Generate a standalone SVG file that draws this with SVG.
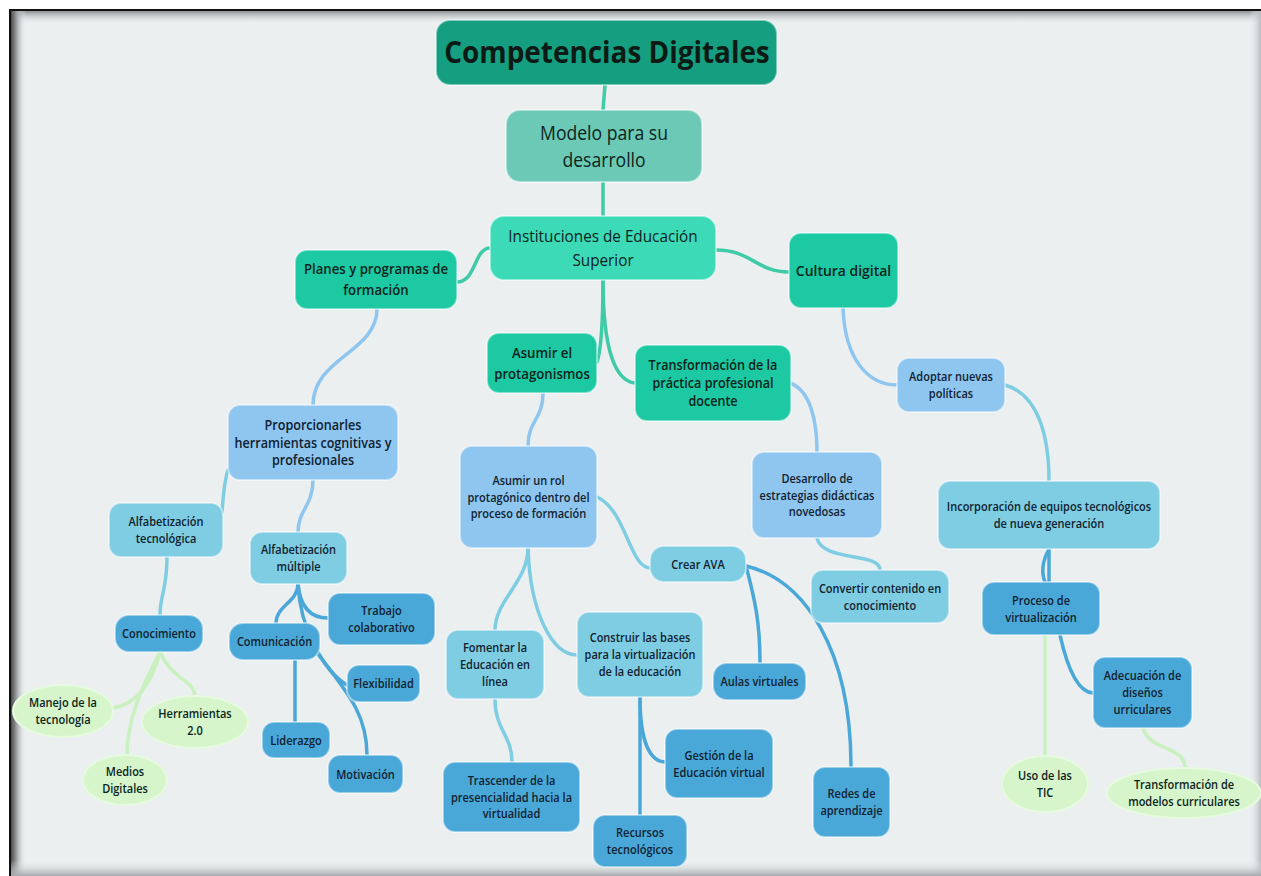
<svg xmlns="http://www.w3.org/2000/svg" width="1261" height="876" viewBox="0 0 1261 876">
<defs>
<linearGradient id="gTop" x1="0" y1="0" x2="0" y2="1"><stop offset="0" stop-color="#7d8082"/><stop offset="1" stop-color="#eceff0" stop-opacity="0"/></linearGradient>
<linearGradient id="gLeft" x1="0" y1="0" x2="1" y2="0"><stop offset="0" stop-color="#3a3c3e"/><stop offset="0.4" stop-color="#9a9d9f"/><stop offset="1" stop-color="#eceff0" stop-opacity="0"/></linearGradient>
<linearGradient id="gRight" x1="1" y1="0" x2="0" y2="0"><stop offset="0" stop-color="#b9bcbe"/><stop offset="1" stop-color="#eceff0" stop-opacity="0"/></linearGradient>
<linearGradient id="gBot" x1="0" y1="1" x2="0" y2="0"><stop offset="0" stop-color="#a7aaac"/><stop offset="1" stop-color="#eceff0" stop-opacity="0"/></linearGradient>
<style>
.t{font-family:"Open Sans","Liberation Sans",sans-serif;text-anchor:middle;fill:#10212f;font-weight:600;}
.tg{fill:#0c231c;}
.s12{font-size:12.5px;}
.s14{font-size:14px;}
.s15{font-size:15px;}
.nd{stroke:#ffffff;stroke-opacity:0.45;stroke-width:2;}
.c1{fill:#169e80;}
.c2{fill:#6cc9b6;}
.c3{fill:#3ddab8;}
.c4{fill:#1cc9a2;}
.lb{fill:#8ec6f0;}
.cy{fill:#7fcde2;}
.mb{fill:#4aa8d8;}
.gr{fill:#d6f5cb;stroke:#e6fadf;stroke-width:2;}
#connectors path{fill:none;stroke-linecap:round;}
.kt{stroke:#3fcaa8;stroke-width:3.5;}
.kl{stroke:#8ec6f0;stroke-width:3.5;}
.kc{stroke:#7fcde2;stroke-width:3.5;}
.km{stroke:#4aa8d8;stroke-width:3.5;}
.kg{stroke:#c9f0bf;stroke-width:3.5;}
</style>
</defs>
<rect x="0" y="0" width="1261" height="876" fill="#ffffff"/>
<rect x="10" y="10" width="1251" height="866" fill="#eceff0"/>
<rect x="10" y="10" width="1251" height="14" fill="url(#gTop)"/>
<rect x="10" y="10" width="16" height="866" fill="url(#gLeft)"/>
<rect x="1249" y="10" width="12" height="866" fill="url(#gRight)"/>
<rect x="10" y="860" width="1251" height="16" fill="url(#gBot)"/>
<rect x="9" y="9" width="1252" height="2" fill="#111"/>
<rect x="9" y="9" width="2" height="867" fill="#111"/>

<g id="connectors">
<path class="kt" d="M605,85 L603,110" stroke-width="3"/>
<path class="kt" d="M603,182 L603,216"/>
<path class="kt" d="M490,248 C474,248 476,282 457,282"/>
<path class="kt" d="M716,250 C752,250 756,272 789,272"/>
<path class="kt" d="M603,280 C603,330 601,350 597,362"/>
<path class="kt" d="M603,280 C603,352 616,381 635,383"/>
<path class="kl" d="M377,309 C377,352 313,358 313,405"/>
<path class="kc" d="M228,470 C224,482 223,500 222,512"/>
<path class="kl" d="M313,480 C313,506 298,510 298,532"/>
<path class="kc" d="M167,557 C167,590 160,595 160,615"/>
<path class="km" d="M298,584 C298,602 276,606 276,623"/>
<path class="km" d="M298,584 C300,606 310,618 328,618"/>
<path class="km" d="M298,584 C300,630 325,672 347,685"/>
<path class="km" d="M295,660 L295,722"/>
<path class="km" d="M315,650 C345,690 367,712 367,755"/>
<path class="kg" d="M160,652 C150,690 132,705 113,708"/>
<path class="kg" d="M160,652 C140,690 127,722 127,755"/>
<path class="kg" d="M160,652 C172,680 195,680 195,697"/>
<path class="kl" d="M543,393 C543,420 528,420 528,446"/>
<path class="kc" d="M597,497 C626,510 630,568 650,568"/>
<path class="kc" d="M528,548 C528,582 495,600 495,630"/>
<path class="kc" d="M528,548 C530,612 552,655 577,655"/>
<path class="kc" d="M495,699 C495,730 512,735 512,762"/>
<path class="km" d="M640,697 L640,815"/>
<path class="km" d="M640,697 C640,742 650,762 666,762"/>
<path class="km" d="M746,566 C755,600 760,622 760,663"/>
<path class="km" d="M746,566 C805,580 851,650 851,767" stroke-width="4"/>
<path class="kl" d="M790,383 C810,390 817,420 817,452"/>
<path class="kc" d="M817,538 C822,562 880,552 880,570"/>
<path class="kl" d="M843,308 C845,362 870,385 897,385" stroke-width="4"/>
<path class="kc" d="M1005,385 C1040,395 1049,440 1049,481"/>
<path class="km" d="M1049,549 C1043,560 1041,572 1045,582"/>
<path class="km" d="M1049,549 L1049,582"/>
<path class="km" d="M1060,635 C1066,662 1076,692 1093,693"/>
<path class="kg" d="M1045,635 L1045,757"/>
<path class="kg" d="M1143,728 C1150,752 1185,745 1185,768"/>
</g>

<g id="n-title"><rect class="nd c1" x="436" y="20" width="341" height="65" rx="14"/>
<text class="t tg" style="font-size:30px;font-weight:700;fill:#0b1a14" transform="translate(607 52.5) scale(0.93 1)"><tspan x="0" y="10.8">Competencias Digitales</tspan></text></g>
<g id="n-modelo"><rect class="nd c2" x="506" y="110" width="196" height="72" rx="14"/>
<text class="t tg" style="font-size:20px;font-weight:500" transform="translate(604 146) scale(0.88 1)"><tspan x="0" y="-6.3">Modelo para su</tspan><tspan x="0" y="20.7">desarrollo</tspan></text></g>
<g id="n-ies"><rect class="nd c3" x="490" y="216" width="226" height="64" rx="14"/>
<text class="t tg" style="font-size:17px;font-weight:500" transform="translate(603 248) scale(0.9 1)"><tspan x="0" y="-5.9">Instituciones de Educación</tspan><tspan x="0" y="18.1">Superior</tspan></text></g>
<g id="n-planes"><rect class="nd c4" x="295" y="250" width="162" height="59" rx="12"/>
<text class="t tg s15" transform="translate(376 279.5) scale(0.88 1)"><tspan x="0" y="-5.1">Planes y programas de</tspan><tspan x="0" y="15.9">formación</tspan></text></g>
<g id="n-cultura"><rect class="nd c4" x="789" y="233" width="109" height="75" rx="12"/>
<text class="t tg s15" transform="translate(843.5 270.5) scale(0.93 1)"><tspan x="0" y="5.4">Cultura digital</tspan></text></g>
<g id="n-asumir-el"><rect class="nd c4" x="487" y="333" width="110" height="60" rx="12"/>
<text class="t tg s15" transform="translate(542 363) scale(0.88 1)"><tspan x="0" y="-5.1">Asumir el</tspan><tspan x="0" y="15.9">protagonismos</tspan></text></g>
<g id="n-transf"><rect class="nd c4" x="635" y="345" width="156" height="76" rx="12"/>
<text class="t tg s14" transform="translate(713 383) scale(0.9 1)"><tspan x="0" y="-13.5">Transformación de la</tspan><tspan x="0" y="5">práctica profesional</tspan><tspan x="0" y="23.5">docente</tspan></text></g>
<g id="n-prop"><rect class="nd lb" x="228" y="405" width="170" height="75" rx="12"/>
<text class="t s14" transform="translate(313 442.5) scale(0.9 1)"><tspan x="0" y="-13">Proporcionarles</tspan><tspan x="0" y="5">herramientas cognitivas y</tspan><tspan x="0" y="23">profesionales</tspan></text></g>
<g id="n-alftec"><rect class="nd cy" x="109" y="503" width="114" height="54" rx="12"/>
<text class="t s12" transform="translate(166 530) scale(0.88 1)"><tspan x="0" y="-4">Alfabetización</tspan><tspan x="0" y="13">tecnológica</tspan></text></g>
<g id="n-alfmul"><rect class="nd cy" x="250" y="532" width="97" height="52" rx="12"/>
<text class="t s12" transform="translate(298.5 558) scale(0.88 1)"><tspan x="0" y="-4">Alfabetización</tspan><tspan x="0" y="13">múltiple</tspan></text></g>
<g id="n-conoc"><rect class="nd mb" x="115" y="615" width="88" height="37" rx="14"/>
<text class="t s12" transform="translate(159 633.5) scale(0.88 1)"><tspan x="0" y="4.5">Conocimiento</tspan></text></g>
<g id="n-comun"><rect class="nd mb" x="229" y="623" width="91" height="37" rx="14"/>
<text class="t s12" transform="translate(274.5 641.5) scale(0.88 1)"><tspan x="0" y="4.5">Comunicación</tspan></text></g>
<g id="n-trabajo"><rect class="nd mb" x="328" y="593" width="107" height="52" rx="12"/>
<text class="t s12" transform="translate(381.5 619) scale(0.88 1)"><tspan x="0" y="-4">Trabajo</tspan><tspan x="0" y="13">colaborativo</tspan></text></g>
<g id="n-flex"><rect class="nd mb" x="347" y="665" width="73" height="37" rx="12"/>
<text class="t s12" transform="translate(383.5 683.5) scale(0.88 1)"><tspan x="0" y="4.5">Flexibilidad</tspan></text></g>
<g id="n-lider"><rect class="nd mb" x="262" y="722" width="68" height="36" rx="12"/>
<text class="t s12" transform="translate(296 740) scale(0.88 1)"><tspan x="0" y="4.5">Liderazgo</tspan></text></g>
<g id="n-motiv"><rect class="nd mb" x="328" y="755" width="75" height="38" rx="12"/>
<text class="t s12" transform="translate(365.5 774) scale(0.88 1)"><tspan x="0" y="4.5">Motivación</tspan></text></g>
<g id="n-manejo"><ellipse class="gr" cx="63" cy="711" rx="50" ry="26"/>
<text class="t tg s12" transform="translate(63 711) scale(0.88 1)"><tspan x="0" y="-4">Manejo de la</tspan><tspan x="0" y="13">tecnología</tspan></text></g>
<g id="n-herr"><ellipse class="gr" cx="195" cy="722" rx="53" ry="26"/>
<text class="t tg s12" transform="translate(195 722) scale(0.88 1)"><tspan x="0" y="-4">Herramientas</tspan><tspan x="0" y="13">2.0</tspan></text></g>
<g id="n-medios"><ellipse class="gr" cx="125" cy="780" rx="42" ry="25"/>
<text class="t tg s12" transform="translate(125 780) scale(0.88 1)"><tspan x="0" y="-4">Medios</tspan><tspan x="0" y="13">Digitales</tspan></text></g>
<g id="n-rol"><rect class="nd lb" x="460" y="446" width="137" height="102" rx="12"/>
<text class="t s12" transform="translate(528.5 497) scale(0.88 1)"><tspan x="0" y="-11.8">Asumir un rol</tspan><tspan x="0" y="4.5">protagónico dentro del</tspan><tspan x="0" y="20.8">proceso de formación</tspan></text></g>
<g id="n-crear"><rect class="nd cy" x="650" y="546" width="96" height="36" rx="14"/>
<text class="t s12" transform="translate(698 564) scale(0.88 1)"><tspan x="0" y="4.5">Crear AVA</tspan></text></g>
<g id="n-fomentar"><rect class="nd cy" x="446" y="630" width="98" height="69" rx="12"/>
<text class="t s12" transform="translate(495 664.5) scale(0.88 1)"><tspan x="0" y="-12.5">Fomentar la</tspan><tspan x="0" y="4.5">Educación en</tspan><tspan x="0" y="21.5">línea</tspan></text></g>
<g id="n-construir"><rect class="nd cy" x="577" y="612" width="126" height="85" rx="12"/>
<text class="t s12" transform="translate(640 654.5) scale(0.88 1)"><tspan x="0" y="-12.5">Construir las bases</tspan><tspan x="0" y="4.5">para la virtualización</tspan><tspan x="0" y="21.5">de la educación</tspan></text></g>
<g id="n-aulas"><rect class="nd mb" x="713" y="663" width="93" height="37" rx="14"/>
<text class="t s12" transform="translate(759.5 681.5) scale(0.88 1)"><tspan x="0" y="4.5">Aulas virtuales</tspan></text></g>
<g id="n-trasc"><rect class="nd mb" x="443" y="762" width="137" height="70" rx="12"/>
<text class="t s12" transform="translate(511.5 797) scale(0.88 1)"><tspan x="0" y="-12.5">Trascender de la</tspan><tspan x="0" y="4.5">presencialidad hacia la</tspan><tspan x="0" y="21.5">virtualidad</tspan></text></g>
<g id="n-gestion"><rect class="nd mb" x="665" y="729" width="108" height="69" rx="12"/>
<text class="t s12" transform="translate(719 763.5) scale(0.88 1)"><tspan x="0" y="-4">Gestión de la</tspan><tspan x="0" y="13">Educación virtual</tspan></text></g>
<g id="n-recursos"><rect class="nd mb" x="593" y="815" width="94" height="52" rx="12"/>
<text class="t s12" transform="translate(640 841) scale(0.88 1)"><tspan x="0" y="-4">Recursos</tspan><tspan x="0" y="13">tecnológicos</tspan></text></g>
<g id="n-redes"><rect class="nd mb" x="813" y="767" width="77" height="70" rx="12"/>
<text class="t s12" transform="translate(851.5 802) scale(0.88 1)"><tspan x="0" y="-4">Redes de</tspan><tspan x="0" y="13">aprendizaje</tspan></text></g>
<g id="n-desarrollo"><rect class="nd lb" x="752" y="452" width="130" height="86" rx="12"/>
<text class="t s12" transform="translate(817 495) scale(0.88 1)"><tspan x="0" y="-12.5">Desarrollo de</tspan><tspan x="0" y="4.5">estrategias didácticas</tspan><tspan x="0" y="21.5">novedosas</tspan></text></g>
<g id="n-convertir"><rect class="nd cy" x="811" y="570" width="138" height="53" rx="12"/>
<text class="t s12" transform="translate(880 596.5) scale(0.88 1)"><tspan x="0" y="-4">Convertir contenido en</tspan><tspan x="0" y="13">conocimiento</tspan></text></g>
<g id="n-adoptar"><rect class="nd lb" x="897" y="358" width="108" height="54" rx="12"/>
<text class="t s12" transform="translate(951 385) scale(0.88 1)"><tspan x="0" y="-4">Adoptar nuevas</tspan><tspan x="0" y="13">políticas</tspan></text></g>
<g id="n-incorp"><rect class="nd cy" x="938" y="481" width="222" height="68" rx="12"/>
<text class="t s12" transform="translate(1049 515) scale(0.88 1)"><tspan x="0" y="-4">Incorporación de equipos tecnológicos</tspan><tspan x="0" y="13">de nueva generación</tspan></text></g>
<g id="n-proceso"><rect class="nd mb" x="982" y="582" width="118" height="53" rx="12"/>
<text class="t s12" transform="translate(1041 608.5) scale(0.88 1)"><tspan x="0" y="-4">Proceso de</tspan><tspan x="0" y="13">virtualización</tspan></text></g>
<g id="n-adec"><rect class="nd mb" x="1093" y="657" width="99" height="71" rx="12"/>
<text class="t s12" transform="translate(1142.5 692.5) scale(0.88 1)"><tspan x="0" y="-12.5">Adecuación de</tspan><tspan x="0" y="4.5">diseños</tspan><tspan x="0" y="21.5">urriculares</tspan></text></g>
<g id="n-uso"><ellipse class="gr" cx="1045" cy="784" rx="43" ry="28"/>
<text class="t tg s12" transform="translate(1045 784) scale(0.88 1)"><tspan x="0" y="-4">Uso de las</tspan><tspan x="0" y="13">TIC</tspan></text></g>
<g id="n-transfmod"><ellipse class="gr" cx="1184" cy="793" rx="77" ry="25"/>
<text class="t tg s12" transform="translate(1184 793) scale(0.88 1)"><tspan x="0" y="-4">Transformación de</tspan><tspan x="0" y="13">modelos curriculares</tspan></text></g>
</svg>
